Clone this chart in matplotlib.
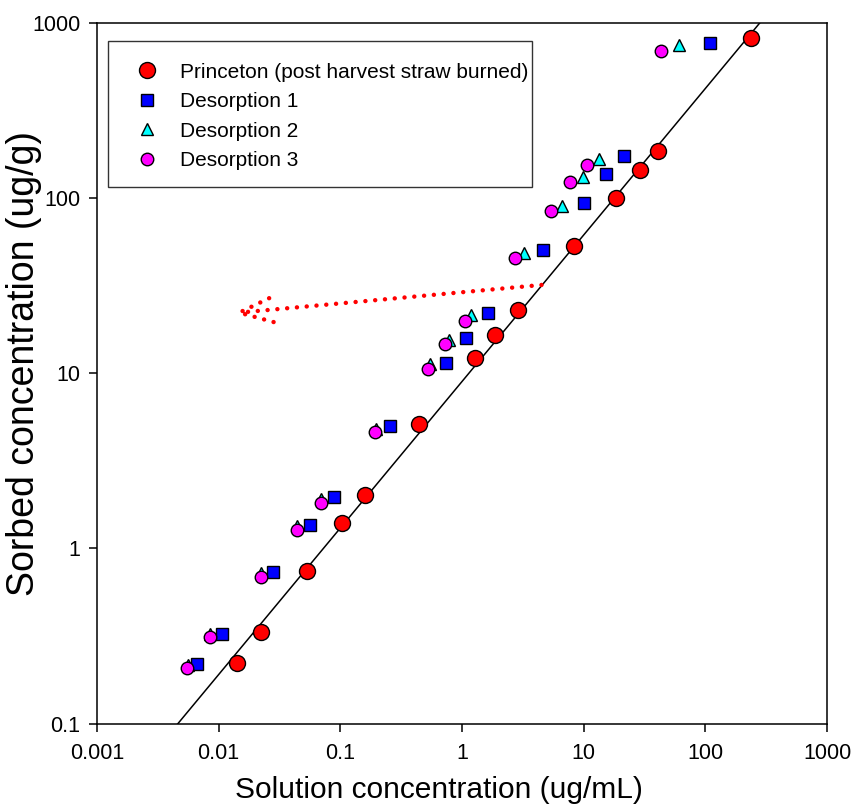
import numpy as np
import matplotlib
matplotlib.use("Agg")
import matplotlib.pyplot as plt
from matplotlib.patches import Rectangle

plt.rcParams["font.family"] = ["Liberation Sans", "DejaVu Sans"]

# Princeton (post harvest straw burned) - sorption
princeton_x = [0.0141, 0.0221, 0.0537, 0.104, 0.160, 0.445, 1.28, 1.86, 2.88,
               8.28, 18.6, 29.3, 41.2, 238]
princeton_y = [0.222, 0.333, 0.743, 1.40, 2.02, 5.13, 12.2, 16.5, 22.9,
               53.2, 100, 144, 185, 818]

# desorption steps
des1_x = [0.00664, 0.0106, 0.0279, 0.0568, 0.0893, 0.257, 0.743, 1.07, 1.64,
          4.67, 10.1, 15.4, 21.4, 109]
des1_y = [0.218, 0.325, 0.731, 1.36, 1.97, 5.0, 11.5, 15.8, 22.0,
          50.5, 94, 137, 173, 769]
des2_x = [0.00557, 0.00846, 0.0222, 0.0444, 0.0699, 0.197, 0.547, 0.782, 1.19,
          3.22, 6.60, 9.82, 13.3, 61.2]
des2_y = [0.216, 0.325, 0.724, 1.34, 1.92, 4.81, 11.3, 15.5, 21.5,
          48.5, 90, 132, 167, 746]
des3_x = [0.00549, 0.00844, 0.0222, 0.0442, 0.0695, 0.194, 0.524, 0.726, 1.06,
          2.72, 5.40, 7.78, 10.6, 43.0]
des3_y = [0.207, 0.311, 0.688, 1.27, 1.82, 4.62, 10.6, 14.7, 19.9,
          45.4, 84.3, 123, 154, 690]

# Freundlich fit line
kf = 8.97
n_exp = 0.836

# dotted arrow (tail -> head)
arrow_tail = (4.50, 31.9)
arrow_head = (0.0131, 22.0)

ticks = [0.001, 0.01, 0.1, 1, 10, 100, 1000]
x_ticklabels = ["0.001", "0.01", "0.1", "1", "10", "100", "1000"]
y_ticks = [0.1, 1, 10, 100, 1000]
y_ticklabels = ["0.1", "1", "10", "100", "1000"]

fig = plt.figure(figsize=(8.54, 8.09), dpi=100)
ax = fig.add_axes([0.1136, 0.1054, 0.8548, 0.8665])

xl = np.logspace(-3, 3, 200)
ax.plot(xl, kf * xl ** n_exp, color="black", lw=1.1, zorder=2)

ax.plot(princeton_x, princeton_y, "o", ms=11.5, mfc="red", mec="black", mew=1,
        ls="none", label="Princeton (post harvest straw burned)", zorder=3)
ax.plot(des1_x, des1_y, "s", ms=8.5, mfc="blue", mec="black", mew=1,
        ls="none", label="Desorption 1", zorder=4)
ax.plot(des2_x, des2_y, "^", ms=8.5, mfc="cyan", mec="black", mew=1,
        ls="none", label="Desorption 2", zorder=5)
ax.plot(des3_x, des3_y, "o", ms=9, mfc="magenta", mec="black", mew=1,
        ls="none", label="Desorption 3", zorder=6)

ax.annotate("", xy=arrow_head, xytext=arrow_tail,
            arrowprops=dict(arrowstyle="->,head_length=2.4,head_width=0.9",
                            color="red", lw=3.2, linestyle=(0, (0.01, 2.2)),
                            capstyle="round", shrinkA=0, shrinkB=0,
                            mutation_scale=10),
            zorder=7)

ax.set_xscale("log")
ax.set_yscale("log")
ax.set_xlim(0.001, 1000)
ax.set_ylim(0.1, 1000)
ax.set_xticks(ticks)
ax.set_xticklabels(x_ticklabels)
ax.set_yticks(y_ticks)
ax.set_yticklabels(y_ticklabels)
ax.minorticks_off()
ax.tick_params(axis="both", direction="out", length=6, width=1.1,
               labelsize=15.5)
ax.tick_params(axis="x", pad=8)
ax.tick_params(axis="y", pad=6)
for s in ax.spines.values():
    s.set_linewidth(1.1)

ax.set_xlabel("Solution concentration (ug/mL)", fontsize=21.5)
ax.set_ylabel("Sorbed concentration (ug/g)", fontsize=27)
ax.xaxis.set_label_coords(0.468, -0.0746)
ax.yaxis.set_label_coords(-0.076, 0.514)

ax.add_patch(Rectangle((0.015, 0.766), 0.581, 0.208, transform=ax.transAxes,
                       fill=False, edgecolor="#333333", lw=1, zorder=8))
ax.legend(loc="upper left", bbox_to_anchor=(0.0397, 0.943), frameon=False,
          borderpad=0, fontsize=15, labelspacing=0.5, handlelength=2.0,
          handletextpad=0.6, borderaxespad=0)

fig.savefig("out.png", dpi=100)
